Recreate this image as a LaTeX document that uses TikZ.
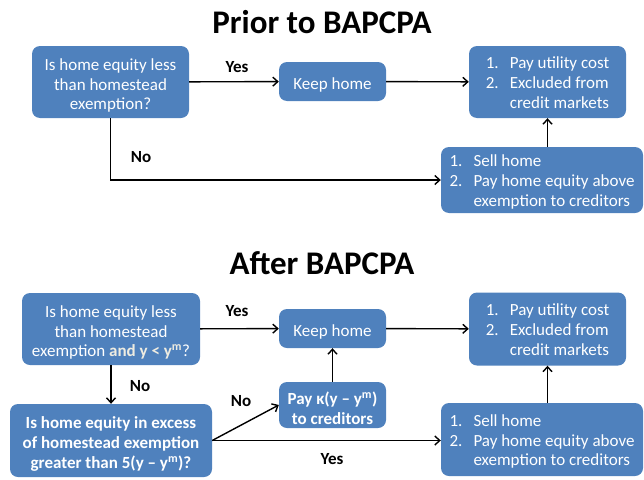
\documentclass[tikz,border=0pt]{standalone}
\usepackage{fontspec}
\setmainfont{Carlito}
\usetikzlibrary{arrows.meta,positioning}
\definecolor{boxcolor}{RGB}{79,129,189}
\definecolor{creamcolor}{RGB}{238,236,225}
\newcommand{\itm}[1]{\makebox[24pt][l]{#1.}}
\newcommand{\lift}{\rule{0pt}{19pt}}

\begin{document}
\begin{tikzpicture}[x=1pt, y=-1pt,
    flowbox/.style={fill=boxcolor, rounded corners=8pt, text=white, inner sep=0pt,
      align=center, font=\fontsize{17}{19.8}\selectfont},
    boldbox/.style={flowbox, font=\fontsize{17}{19.8}\selectfont\bfseries},
    heading/.style={font=\fontsize{33}{38}\selectfont\bfseries, anchor=base},
    tag/.style={font=\fontsize{17}{19}\selectfont\bfseries},
    flow/.style={line width=1.4pt, -{Straight Barb[length=5pt,width=9pt]}}]
  \useasboundingbox (0,0) rectangle (644,479);
  % prior to BAPCPA
  \begin{scope}[shift={(0,0)}]
    \node[heading] (prior) at (322,33) {Prior to BAPCPA};
    \node[flowbox, minimum width=157pt, minimum height=72pt] (askA) at (110.5,82)
      {\lift Is home equity less\\than homestead\\exemption?};
    \node[flowbox, minimum width=107pt, minimum height=39pt] (keepA) at (332.5,81.5) {\lift Keep home};
    \node[flowbox, minimum width=157pt, minimum height=72pt] (outA) at (547.5,82)
      {\begin{tabular}{@{}l@{}l@{}}\lift\itm{1}&Pay utility cost\\ \itm{2}&Excluded from\\ &credit markets\end{tabular}};
    \node[flowbox, minimum width=202pt, minimum height=66pt] (sellA) at (542,180)
      {\begin{tabular}{@{}l@{}l@{}}\lift\itm{1}&Sell home\\ \itm{2}&Pay home equity above\\ &exemption to creditors\end{tabular}};
    \draw[flow] (askA) -- (keepA);
    \draw[flow] (keepA) -- (outA);
    \draw[flow] (outA.south |- sellA.north) -- (outA.south);
    \draw[flow] (askA.south) |- (sellA.west);
    \node[tag] (yesA) at (237,67) {Yes};
    \node[tag] (noA) at (141,157) {No};
  \end{scope}
  % after BAPCPA
  \begin{scope}[shift={(0,247)}]
    \node[heading] (after) at (322,27) {After BAPCPA};
    \node[flowbox, minimum width=178pt, minimum height=72pt] (askB) at (111,82)
      {\lift Is home equity less\\than homestead\\exemption {\bfseries\color{creamcolor}and y < y\textsuperscript{m}}?};
    \node[flowbox, minimum width=107pt, minimum height=39pt] (keepB) at (332.5,81.5) {\lift Keep home};
    \node[flowbox, minimum width=157pt, minimum height=73pt] (outB) at (547.5,82)
      {\begin{tabular}{@{}l@{}l@{}}\lift\itm{1}&Pay utility cost\\ \itm{2}&Excluded from\\ &credit markets\end{tabular}};
    \node[boldbox, minimum width=202pt, minimum height=73pt] (askC) at (111,193.5)
      {\lift Is home equity in excess\\of homestead exemption\\greater than 5(y – y\textsuperscript{m})?};
    \node[boldbox, minimum width=107pt, minimum height=46pt] (payB) at (332.5,158)
      {\lift Pay κ(y – y\textsuperscript{m})\\to creditors};
    \node[flowbox, minimum width=202pt, minimum height=73pt] (sellB) at (542,192.5)
      {\begin{tabular}{@{}l@{}l@{}}\lift\itm{1}&Sell home\\ \itm{2}&Pay home equity above\\ &exemption to creditors\end{tabular}};
    \draw[flow] (askB) -- (keepB);
    \draw[flow] (keepB) -- (outB);
    \draw[flow] (askB.south) -- (askC.north);
    \draw[flow] (payB) -- (keepB);
    \draw[flow] (askC.east) -- (payB.west);
    \draw[flow] (askC.east) -- (askC.east -| sellB.west);
    \draw[flow] (outB.south |- sellB.north) -- (outB.south);
    \node[tag] (yesB) at (237,64) {Yes};
    \node[tag] (noB) at (140,139) {No};
    \node[tag] (noC) at (241,154) {No};
    \node[tag] (yesC) at (332,212) {Yes};
  \end{scope}
\end{tikzpicture}
\end{document}
